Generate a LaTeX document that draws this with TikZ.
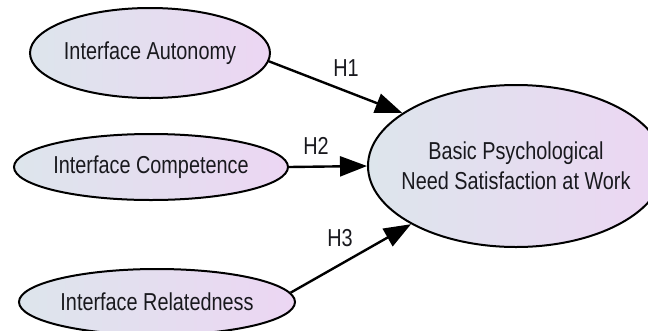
\documentclass[tikz,border=0pt]{standalone}
\usepackage{fontspec}
\setmainfont{Liberation Sans}[FakeStretch=0.81]
\usetikzlibrary{shapes.geometric,arrows.meta}
\definecolor{fillL}{RGB}{221,229,236}
\definecolor{fillR}{RGB}{236,214,243}
\definecolor{ink}{RGB}{25,25,30}
\begin{document}
\begin{tikzpicture}[x=1pt,y=-1pt,
  construct/.style={ellipse, draw=black, line width=2pt, inner xsep=-40pt, inner ysep=-5pt,
    left color=fillL, right color=fillR, text=ink, align=center,
    font=\fontsize{24.5}{30}\selectfont},
  link/.style={line width=2.4pt, -{Triangle[length=27pt,width=20pt]}},
  hyp/.style={inner sep=0pt, text=ink, font=\fontsize{24.5}{30}\selectfont}]
  \clip (0,0) rectangle (648,330);
  \fill[white] (0,0) rectangle (648,330);

  % exogenous constructs
  \node[construct, minimum width=240pt, minimum height=90pt] (aut) at (150,53) {Interface Autonomy};
  \node[construct, minimum width=274pt, minimum height=66pt] (com) at (151,167) {Interface Competence};
  \node[construct, minimum width=276pt, minimum height=66pt] (rel) at (157,302) {Interface Relatedness};

  % endogenous construct
  \node[construct, minimum width=296pt, minimum height=162pt] (bpn) at (516,166)
    {Basic Psychological\\Need Satisfaction at Work};

  % hypothesised paths
  \draw[link] (aut.-4) -- (bpn.155.9);
  \draw[link] (com.east) -- (bpn.west);
  \draw[link] (rel.4.3) -- (bpn.209.9);

  \node[hyp] (h1) at (346,68) {H1};
  \node[hyp] (h2) at (316,146) {H2};
  \node[hyp] (h3) at (340,238) {H3};
\end{tikzpicture}
\end{document}
